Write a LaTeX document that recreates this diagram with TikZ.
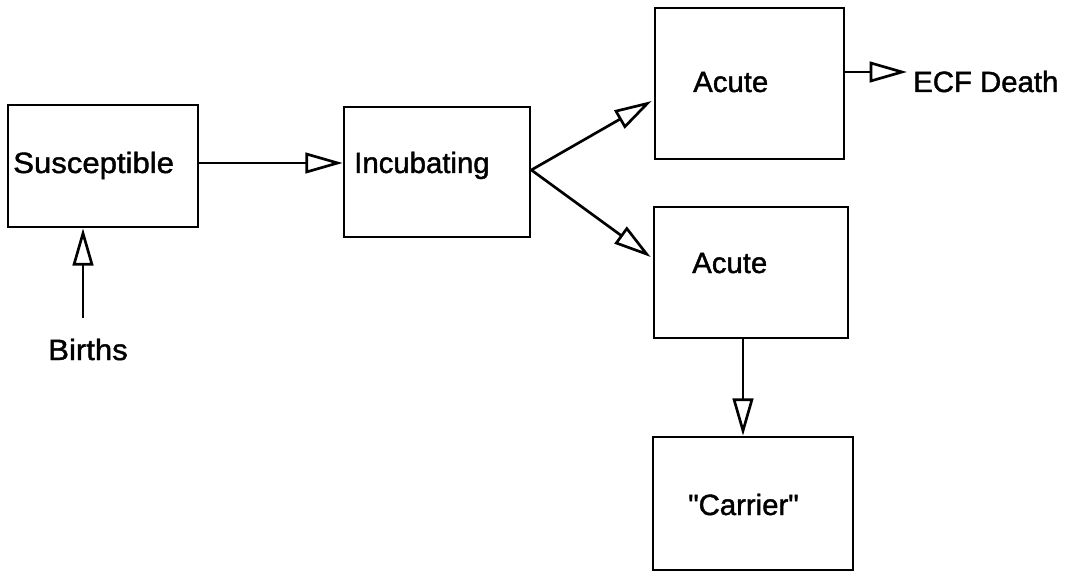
\documentclass[tikz,border=0pt]{standalone}
\usepackage{fontspec}
\setmainfont{Liberation Sans}[Ligatures=TeXOff]
\newfontfamily\lblfont{Liberation Sans}[Ligatures=TeXOff,UprightFeatures={FakeBold=1.4}]
\usetikzlibrary{arrows.meta,calc}

\begin{document}
\begin{tikzpicture}[x=0.75pt,y=-0.75pt,
  stage/.style={draw,line width=2pt,rectangle,inner sep=0pt},
  lbl/.style={anchor=base west,inner sep=0pt,font=\lblfont\fontsize{22}{26}\selectfont},
  flow/.style={draw,line width=2pt,
    -{Triangle[open,length=28pt,width=15.5pt,line width=2pt]}}]
  \useasboundingbox (0,0) rectangle (1068,574);

  % compartments
  \node[stage,minimum width=142.5pt,minimum height=91.5pt]  (sus) at (103,166)   {};
  \node[stage,minimum width=139.5pt,minimum height=97.5pt]  (inc) at (437,172)   {};
  \node[stage,minimum width=141.75pt,minimum height=113.25pt] (a1) at (749.5,83.5) {};
  \node[stage,minimum width=145.5pt,minimum height=98.25pt] (a2) at (751,272.5) {};
  \node[stage,minimum width=150pt,minimum height=99.75pt]   (car) at (753,503.5) {};

  % compartment labels
  \node[lbl] (tsus) at (13,173)  {\scalebox{1.06}[1]{Susceptible}};
  \node[lbl] (tinc) at (354,173) {Incubating};
  \node[lbl] (ta1)  at (693,92)  {Acute};
  \node[lbl] (ta2)  at (692,273) {Acute};
  \node[lbl] (tcar) at (688,515) {"Carrier"};

  % sources and sinks
  \node[lbl] (births) at (48,360) {\scalebox{1.06}[1]{Births}};
  \node[lbl] (ecf)    at (913,92) {ECF Death};

  % helper points for the connectors
  \coordinate (bin)  at (83,318);
  \coordinate (drop) at (743,0);

  % transitions
  \draw[flow] (bin) -- (bin |- sus.south);
  \draw[flow] (sus.east |- 0,163) -- (inc.west |- 0,163);
  \draw[flow] (inc.east |- 0,170) -- ([xshift=-1.5pt]a1.west |- 0,101);
  \draw[flow] (inc.east |- 0,170) -- ([xshift=-1.5pt]a2.west |- 0,257);
  \draw[flow] (a1.east |- 0,72) -- ($(ecf.base west)+(-6,-20)$);
  \draw[flow] (a2.south -| drop) -- (car.north -| drop);
\end{tikzpicture}
\end{document}
